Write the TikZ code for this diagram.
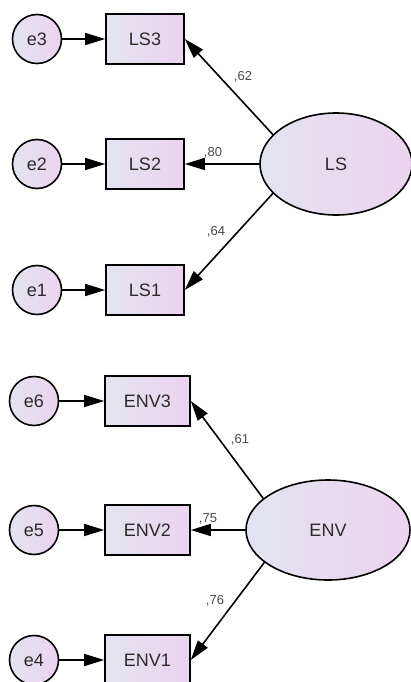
\documentclass[tikz,border=0pt]{standalone}
\usepackage{fontspec}
\setmainfont{Liberation Sans}
\usetikzlibrary{arrows.meta,shapes.geometric}
\definecolor{shadel}{HTML}{E2E4F0}
\definecolor{shader}{HTML}{EDD3F0}
\definecolor{txt}{HTML}{2B2B2B}

\begin{document}
\begin{tikzpicture}[x=1pt,y=-1pt,
  err/.style={circle,draw,line width=1.6pt,left color=shadel,right color=shader,
    minimum size=49pt,inner sep=0pt,text=txt,font=\fontsize{18}{21}\selectfont},
  obs/.style={rectangle,draw,line width=1.6pt,left color=shadel,right color=shader,
    minimum width=78pt,minimum height=50pt,inner sep=0pt,text=txt,font=\fontsize{18}{21}\selectfont},
  lat/.style={ellipse,draw,line width=1.6pt,left color=shadel,right color=shader,
    inner sep=0pt,text=txt,font=\fontsize{18}{21}\selectfont},
  load/.style={inner sep=0pt,text=txt!85,font=\fontsize{13}{15}\selectfont},
  arr/.style={line width=1.6pt,-{Triangle[length=20pt,width=12pt]}}]
\useasboundingbox (0,0) rectangle (410,682);
\fill[white] (0,0) rectangle (410,682);

% LS part
\node[err] (e3) at (37,39) {e3};
\node[err] (e2) at (37,164) {e2};
\node[err] (e1) at (37,290) {e1};
\node[obs] (LS3) at (145,39) {LS3};
\node[obs] (LS2) at (145,164) {LS2};
\node[obs] (LS1) at (145,290) {LS1};
\node[lat,minimum width=152pt,minimum height=102pt] (LS) at (336,164) {LS};
\draw[arr] (e3) -- (LS3);
\draw[arr] (e2) -- (LS2);
\draw[arr] (e1) -- (LS1);
\draw[arr] (LS.155) -- (LS3.east);
\draw[arr] (LS) -- (LS2);
\draw[arr] (LS.205) -- (LS1.east);
\node[load] (l62) at (243,77) {,62};
\node[load] (l80) at (213,153) {,80};
\node[load] (l64) at (216,232) {,64};

% ENV part
\node[err] (e6) at (34,401) {e6};
\node[err] (e5) at (34,530) {e5};
\node[err] (e4) at (34,660) {e4};
\node[obs,minimum width=85pt] (ENV3) at (147.5,401) {ENV3};
\node[obs,minimum width=85pt] (ENV2) at (147.5,530) {ENV2};
\node[obs,minimum width=85pt] (ENV1) at (147.5,660) {ENV1};
\node[lat,minimum width=164pt,minimum height=100pt] (ENV) at (328,530) {ENV};
\draw[arr] (e6) -- (ENV3);
\draw[arr] (e5) -- (ENV2);
\draw[arr] (e4) -- (ENV1);
\draw[arr] (ENV.154) -- (ENV3.east);
\draw[arr] (ENV) -- (ENV2);
\draw[arr] (ENV.207) -- (ENV1.east);
\node[load] (l61) at (240,440) {,61};
\node[load] (l75) at (208,519) {,75};
\node[load] (l76) at (215,601) {,76};
\end{tikzpicture}
\end{document}
